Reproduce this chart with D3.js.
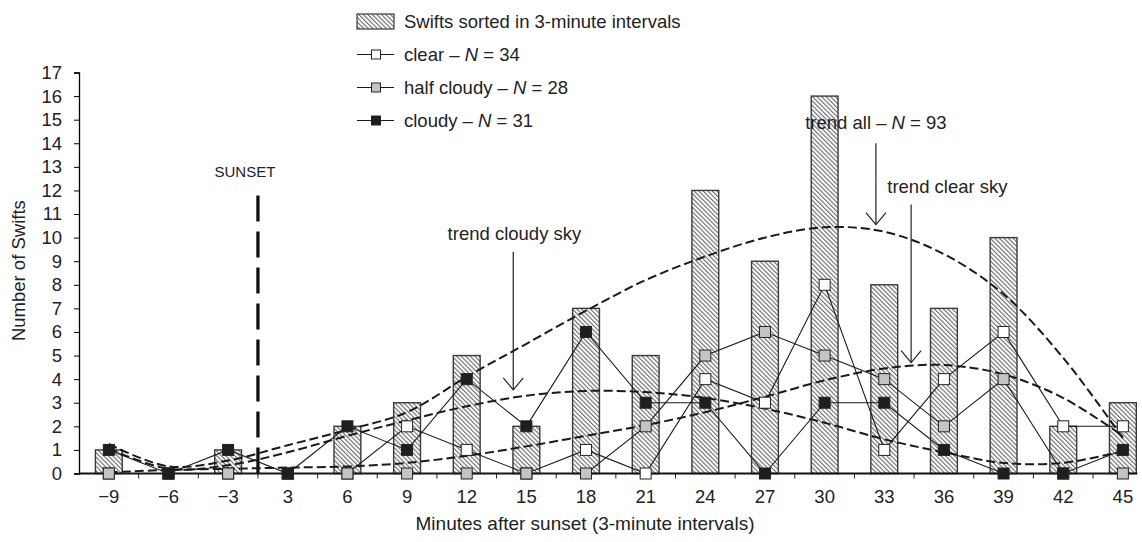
<!DOCTYPE html>
<html>
<head>
<meta charset="utf-8">
<script src="https://cdn.jsdelivr.net/npm/d3@7"></script>
<style>
  body { margin: 0; background: #fff; }
  svg { display: block; font-family: "Liberation Sans", Arial, sans-serif; }
</style>
</head>
<body>
<div id="chart"></div>
<script>
// minutes after sunset, 3-minute intervals (no 0 bin)
const categories = ["-9", "-6", "-3", "3", "6", "9", "12", "15", "18", "21", "24", "27", "30", "33", "36", "39", "42", "45"];
const tickLabels = ["\u22129", "\u22126", "\u22123", "3", "6", "9", "12", "15", "18", "21", "24", "27", "30", "33", "36", "39", "42", "45"];

// bars: all swifts per interval
const totalSwifts = [1, 0, 1, 0, 2, 3, 5, 2, 7, 5, 12, 9, 16, 8, 7, 10, 2, 3];
// per weather condition
const clearSky   = [0, 0, 0, 0, 0, 2, 1, 0, 1, 0, 4, 3, 8, 1, 4, 6, 2, 2];
const halfCloudy = [0, 0, 0, 0, 0, 0, 0, 0, 0, 2, 5, 6, 5, 4, 2, 4, 0, 0];
const cloudySky  = [1, 0, 1, 0, 2, 1, 4, 2, 6, 3, 3, 0, 3, 3, 1, 0, 0, 1];

// trend curves at each interval
const trendAll    = [1.25, 0.3, 0.55, 1.2, 1.85, 2.6, 4.1, 5.5, 6.9, 8.2, 9.2, 10.0, 10.44, 10.25, 9.3, 7.6, 4.9, 1.5];
const trendClear  = [0.05, 0.15, 0.2, 0.25, 0.3, 0.45, 0.75, 1.15, 1.6, 2.05, 2.6, 3.25, 3.95, 4.45, 4.6, 4.2, 3.2, 1.6];
const trendCloudy = [1.05, 0.2, 0.35, 0.9, 1.6, 2.25, 2.85, 3.3, 3.5, 3.45, 3.2, 2.75, 2.15, 1.45, 0.9, 0.45, 0.45, 0.95];

const legendLabels = ["Swifts sorted in 3-minute intervals", "clear", "half cloudy", "cloudy"];
const legendN = [null, 34, 28, 31];

const yTicks = d3.range(0, 18);

const WIDTH = 1142, HEIGHT = 542;
const FONT = 18.5;

const svg = d3.select("#chart").append("svg")
    .attr("width", WIDTH)
    .attr("height", HEIGHT);

// hatch pattern for bars
const defs = svg.append("defs");
defs.append("pattern")
    .attr("id", "hatch")
    .attr("patternUnits", "userSpaceOnUse")
    .attr("width", 3.2)
    .attr("height", 3.2)
    .attr("patternTransform", "rotate(-45)")
  .call(p => {
    p.append("rect").attr("width", 3.2).attr("height", 3.2).attr("fill", "#fff");
    p.append("line").attr("x1", 0.6).attr("y1", 0).attr("x2", 0.6).attr("y2", 3.2)
        .attr("stroke", "#5a5a5a").attr("stroke-width", 1);
  });

const x = d3.scaleBand().domain(categories).range([79, 1152.7]).paddingInner(0).paddingOuter(0);
const y = d3.scaleLinear().domain([0, 17]).range([473.5, 72.5]);
const cx = c => x(c) + x.bandwidth() / 2;
// position in band-index units (for annotations)
const xi = i => x.range()[0] + x.step() * (i + 0.5);

const barW = x.bandwidth() * 0.45;
const markSize = 11;

// bars
svg.append("g").selectAll("rect")
    .data(categories.map((c, i) => ({c: c, v: totalSwifts[i]})).filter(d => d.v > 0))
    .join("rect")
    .attr("x", d => cx(d.c) - barW / 2)
    .attr("y", d => y(d.v))
    .attr("width", barW)
    .attr("height", d => y(0) - y(d.v))
    .attr("fill", "url(#hatch)")
    .attr("stroke", "#3a3a3a")
    .attr("stroke-width", 1.4);

// y axis
const yAxis = d3.axisLeft(y).tickValues(yTicks).tickSize(5).tickPadding(12);
svg.append("g")
    .attr("transform", `translate(${x.range()[0]},0)`)
    .call(yAxis)
    .call(g => g.select(".domain").attr("stroke-width", 1.3))
    .call(g => g.selectAll("text").attr("font-size", FONT).attr("font-family", "Liberation Sans, Arial, sans-serif").attr("fill", "#222"));

// x axis: labels at bin centres, ticks at bin boundaries
const xAxis = d3.axisBottom(x).tickSize(0).tickPadding(16).tickFormat((d, i) => tickLabels[i]);
svg.append("g")
    .attr("transform", `translate(0,${y(0)})`)
    .call(xAxis)
    .call(g => g.select(".domain").remove())
    .call(g => g.selectAll("text").attr("font-size", FONT).attr("font-family", "Liberation Sans, Arial, sans-serif").attr("fill", "#222"));

svg.append("g").selectAll("line")
    .data(categories.slice(1))
    .join("line")
    .attr("x1", d => x(d)).attr("x2", d => x(d))
    .attr("y1", y(0)).attr("y2", y(0) + 5)
    .attr("stroke", "#222").attr("stroke-width", 1);

svg.append("line")
    .attr("x1", x.range()[0]).attr("x2", cx(categories[categories.length - 1]) + barW / 2 + 1)
    .attr("y1", y(0)).attr("y2", y(0))
    .attr("stroke", "#111").attr("stroke-width", 2.2);

// sunset marker
svg.append("line")
    .attr("x1", x("3")).attr("x2", x("3"))
    .attr("y1", y(0)).attr("y2", y(11.95))
    .attr("stroke", "#111").attr("stroke-width", 3.3)
    .attr("stroke-dasharray", "26,10");
svg.append("text")
    .attr("x", x("3") - 13).attr("y", y(12.55))
    .attr("text-anchor", "middle")
    .attr("font-size", 15).attr("fill", "#222")
    .text("SUNSET");

// series lines
const series = [
    {values: clearSky, fill: "#ffffff"},
    {values: halfCloudy, fill: "#c4c4c4"},
    {values: cloudySky, fill: "#1e1e1e"}
];
const lineGen = d3.line().x((d, i) => cx(categories[i])).y(d => y(d));

svg.append("g").selectAll("path")
    .data(series)
    .join("path")
    .attr("d", d => lineGen(d.values))
    .attr("fill", "none")
    .attr("stroke", "#1a1a1a")
    .attr("stroke-width", 1.1);

// trend curves
const trendGen = d3.line()
    .x((d, i) => cx(categories[i]))
    .y(d => y(d))
    .curve(d3.curveCatmullRom.alpha(0.5));

svg.append("g").selectAll("path")
    .data([trendAll, trendClear, trendCloudy])
    .join("path")
    .attr("d", d => trendGen(d))
    .attr("fill", "none")
    .attr("stroke", "#1a1a1a")
    .attr("stroke-width", 2)
    .attr("stroke-dasharray", "9,4");

// markers
series.forEach(s => {
    svg.append("g").selectAll("rect")
        .data(s.values)
        .join("rect")
        .attr("x", (d, i) => cx(categories[i]) - markSize / 2)
        .attr("y", d => y(d) - markSize / 2)
        .attr("width", markSize)
        .attr("height", markSize)
        .attr("fill", s.fill)
        .attr("stroke", "#222")
        .attr("stroke-width", 1);
});

// annotations with arrows
const notes = [
    {text: "trend all", n: 93, anchor: "middle", tx: 12.86, ty: 14.6, ax: 12.86, top: 14.0, tip: 10.55},
    {text: "trend clear sky", n: null, anchor: "start", tx: 13.05, ty: 11.9, ax: 13.45, top: 11.4, tip: 4.7},
    {text: "trend cloudy sky", n: null, anchor: "middle", tx: 6.8, ty: 9.9, ax: 6.78, top: 9.4, tip: 3.55}
];
notes.forEach(a => {
    const t = svg.append("text")
        .attr("x", xi(a.tx)).attr("y", y(a.ty))
        .attr("text-anchor", a.anchor)
        .attr("font-size", FONT).attr("fill", "#222");
    t.append("tspan").text(a.text);
    if (a.n !== null) {
        t.append("tspan").text(" \u2013 ");
        t.append("tspan").attr("font-style", "italic").text("N");
        t.append("tspan").text(" = " + a.n);
    }
    const ax = xi(a.ax), tipY = y(a.tip);
    svg.append("line")
        .attr("x1", ax).attr("x2", ax)
        .attr("y1", y(a.top)).attr("y2", tipY)
        .attr("stroke", "#222").attr("stroke-width", 1.2);
    svg.append("path")
        .attr("d", `M${ax - 10},${tipY - 12}L${ax},${tipY}L${ax + 10},${tipY - 12}`)
        .attr("fill", "none").attr("stroke", "#222").attr("stroke-width", 1.2);
});

// legend
const legend = svg.append("g").attr("transform", "translate(357,0)");
legendLabels.forEach((label, i) => {
    const ly = 21.5 + 33 * i;
    if (i === 0) {
        legend.append("rect")
            .attr("x", 0).attr("y", ly - 7.5).attr("width", 37).attr("height", 15)
            .attr("fill", "url(#hatch)").attr("stroke", "#3a3a3a").attr("stroke-width", 1.2);
    } else {
        legend.append("line")
            .attr("x1", 0).attr("x2", 37).attr("y1", ly).attr("y2", ly)
            .attr("stroke", "#1a1a1a").attr("stroke-width", 1.1);
        legend.append("rect")
            .attr("x", 19 - 4.5).attr("y", ly - 4.5).attr("width", 9).attr("height", 9)
            .attr("fill", series[i - 1].fill).attr("stroke", "#222").attr("stroke-width", 1);
    }
    const t = legend.append("text")
        .attr("x", 47).attr("y", ly + 6.5)
        .attr("font-size", FONT).attr("fill", "#222");
    t.append("tspan").text(label);
    if (legendN[i] !== null) {
        t.append("tspan").text(" \u2013 ");
        t.append("tspan").attr("font-style", "italic").text("N");
        t.append("tspan").text(" = " + legendN[i]);
    }
});

// axis titles
svg.append("text")
    .attr("transform", `translate(25,${y(8.6)}) rotate(-90)`)
    .attr("text-anchor", "middle")
    .attr("font-size", FONT).attr("fill", "#222")
    .text("Number of Swifts");

svg.append("text")
    .attr("x", 585).attr("y", 530)
    .attr("text-anchor", "middle")
    .attr("font-size", 19).attr("fill", "#222")
    .text("Minutes after sunset (3-minute intervals)");
</script>
</body>
</html>
